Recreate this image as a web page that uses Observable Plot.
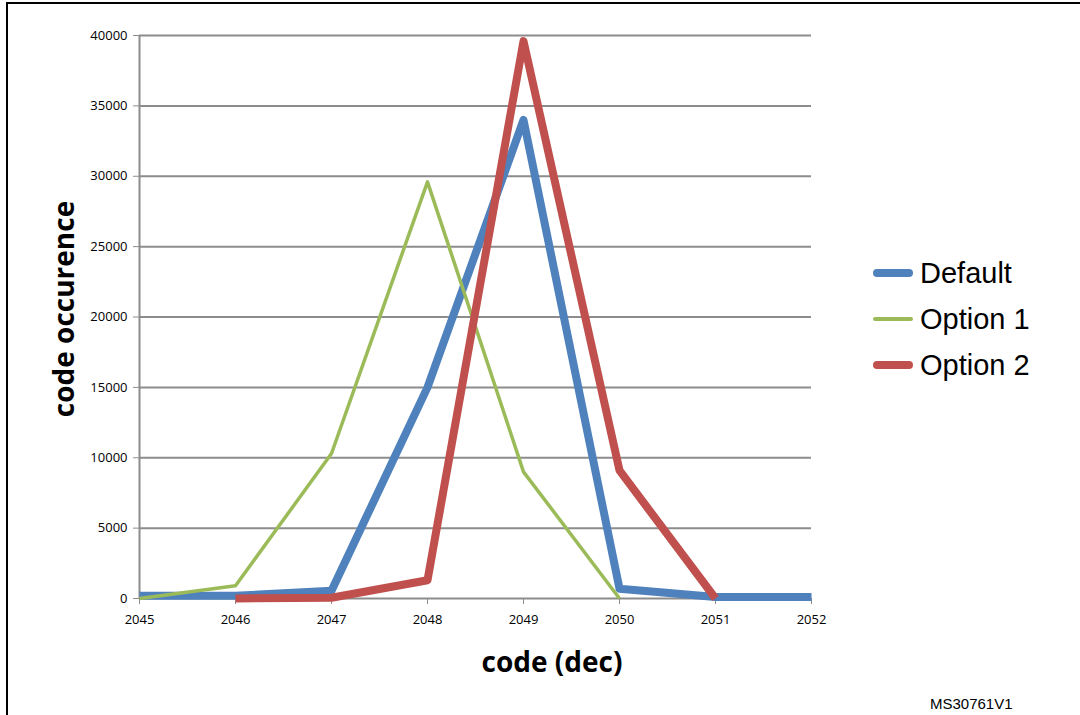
<!DOCTYPE html>
<html>
<head>
<meta charset="utf-8">
<script src="https://cdn.jsdelivr.net/npm/d3@7"></script>
<script src="https://cdn.jsdelivr.net/npm/@observablehq/plot@0.6"></script>
<style>
  html, body { margin: 0; padding: 0; background: #fff; }
  #wrap { position: relative; width: 1080px; height: 715px; overflow: hidden; }
  #frame { position: absolute; left: 6px; top: 2px; width: 1090px; height: 730px; border-left: 2px solid #000; border-top: 2px solid #000; box-sizing: border-box; }
  .ytitle { position: absolute; left: 63px; top: 309px; transform: translate(-50%, -50%) rotate(-90deg); font: bold 28px "Open Sans", Lato, sans-serif; white-space: nowrap; color: #000; }
  .xtitle { position: absolute; left: 552px; top: 661px; transform: translate(-50%, -50%); font: bold 28px "Open Sans", Lato, sans-serif; white-space: nowrap; color: #000; }
  .legend { position: absolute; left: 873px; top: 250px; font: 29px "Liberation Sans", Arial, sans-serif; color: #000; }
  .item { display: flex; align-items: center; height: 46px; }
  .sw { width: 40px; margin-right: 7px; border-radius: 4px; }
  .code { position: absolute; left: 930px; top: 695px; font: 15px "Liberation Sans", Arial, sans-serif; color: #000; }
</style>
</head>
<body>
<div id="wrap">
  <div id="frame"></div>
  <div id="chart"></div>
  <div class="ytitle">code occurence</div>
  <div class="xtitle">code (dec)</div>
  <div class="legend" id="legend"></div>
  <div class="code">MS30761V1</div>
</div>
<script>
const codes = [2045, 2046, 2047, 2048, 2049, 2050, 2051, 2052];
const defaultValues = [200, 200, 550, 15000, 34000, 700, 100, 100];
const option1Codes = [2045, 2046, 2047, 2048, 2049, 2050];
const option1Values = [0, 900, 10300, 29600, 9000, 0];
const option2Codes = [2046, 2047, 2048, 2049, 2050, 2051];
const option2Values = [0, 50, 1300, 39600, 9100, 0];
const yTicks = [0, 5000, 10000, 15000, 20000, 25000, 30000, 35000, 40000];
const seriesNames = ["Default", "Option 1", "Option 2"];
const seriesColors = ["#4F81BD", "#9BBB59", "#C0504D"];
const seriesWidths = [8, 3.5, 8];

const dDefault = codes.map((c, i) => ({code: c, value: defaultValues[i]}));
const dOpt1 = option1Codes.map((c, i) => ({code: c, value: option1Values[i]}));
const dOpt2 = option2Codes.map((c, i) => ({code: c, value: option2Values[i]}));

const chart = Plot.plot({
  width: 1080,
  height: 715,
  marginLeft: 139,
  marginRight: 269,
  marginTop: 35,
  marginBottom: 117,
  style: {background: "transparent", fontFamily: "'Open Sans', Lato, sans-serif", fontSize: "13px", color: "#000"},
  x: {domain: [2045, 2052], ticks: codes, tickFormat: d => String(d), label: null},
  y: {domain: [0, 40000], ticks: yTicks, tickFormat: d => String(d), label: null},
  marks: [
    Plot.ruleY(yTicks.filter(t => t > 0), {stroke: "#8c8c8c", strokeWidth: 2}),
    Plot.ruleX([2045], {stroke: "#8c8c8c", strokeWidth: 2}),
    Plot.ruleY([0], {stroke: "#8c8c8c", strokeWidth: 2}),
    Plot.axisY({ticks: yTicks, tickSize: 6, tickPadding: 6, stroke: "#8c8c8c", tickFormat: d => String(d), label: null, fontSize: 13}),
    Plot.axisX({ticks: codes, tickSize: 6, tickPadding: 10, stroke: "#8c8c8c", tickFormat: d => String(d), label: null, fontSize: 13}),
    Plot.line(dDefault, {x: "code", y: "value", stroke: seriesColors[0], strokeWidth: seriesWidths[0], strokeLinejoin: "round", strokeLinecap: "butt"}),
    Plot.line(dOpt1, {x: "code", y: "value", stroke: seriesColors[1], strokeWidth: seriesWidths[1], strokeLinejoin: "round", strokeLinecap: "butt"}),
    Plot.line(dOpt2, {x: "code", y: "value", stroke: seriesColors[2], strokeWidth: seriesWidths[2], strokeLinejoin: "round", strokeLinecap: "butt"})
  ]
});
chart.style.position = "absolute";
chart.style.left = "0px";
chart.style.top = "0px";
document.getElementById("chart").appendChild(chart);

const legend = document.getElementById("legend");
seriesNames.forEach((name, i) => {
  const item = document.createElement("div");
  item.className = "item";
  const sw = document.createElement("div");
  sw.className = "sw";
  sw.style.height = seriesWidths[i] + "px";
  sw.style.background = seriesColors[i];
  const lab = document.createElement("span");
  lab.textContent = name;
  item.appendChild(sw);
  item.appendChild(lab);
  legend.appendChild(item);
});
</script>
</body>
</html>
